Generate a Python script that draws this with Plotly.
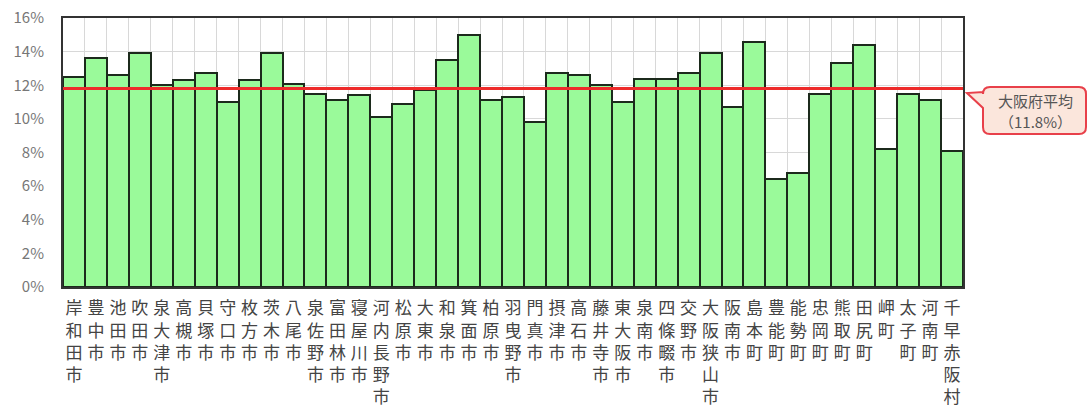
import plotly.graph_objects as go

categories = ["岸和田市", "豊中市", "池田市", "吹田市", "泉大津市", "高槻市", "貝塚市", "守口市",
              "枚方市", "茨木市", "八尾市", "泉佐野市", "富田林市", "寝屋川市", "河内長野市", "松原市",
              "大東市", "和泉市", "箕面市", "柏原市", "羽曳野市", "門真市", "摂津市", "高石市",
              "藤井寺市", "東大阪市", "泉南市", "四條畷市", "交野市", "大阪狭山市", "阪南市", "島本町",
              "豊能町", "能勢町", "忠岡町", "熊取町", "田尻町", "岬町", "太子町", "河南町", "千早赤阪村"]
values = [12.5, 13.6, 12.6, 13.9, 12.0, 12.3, 12.7, 11.0,
          12.3, 13.9, 12.1, 11.5, 11.1, 11.4, 10.1, 10.9,
          11.7, 13.5, 15.0, 11.1, 11.3, 9.8, 12.7, 12.6,
          12.0, 11.0, 12.4, 12.4, 12.7, 13.9, 10.7, 14.6,
          6.4, 6.8, 11.5, 13.3, 14.4, 8.2, 11.5, 11.1, 8.1]
average = 11.8
y_ticks = [0, 2, 4, 6, 8, 10, 12, 14, 16]
avg_label = ["大阪府平均", "（11.8%）"]

W, H = 1088, 410
L, R, T, B = 63, 125, 18, 123
pw, ph = W - L - R, H - T - B

x = list(range(len(categories)))
ticktext = ["<br>".join(list(c)) for c in categories]

fig = go.Figure()
fig.add_trace(go.Bar(
    x=x, y=values, width=1.0,
    marker=dict(color="#9afa9a", line=dict(color="#1c2a1c", width=2)),
    hoverinfo="skip",
))

fig.add_shape(type="line", xref="x", yref="y", x0=-0.5, x1=len(categories) - 0.5,
              y0=average, y1=average, line=dict(color="#ee2b2b", width=3), layer="above")

def px2paper(px, py):
    return (px - L) / pw, (H - B - py) / ph

x0, x1, y0, y1, r = 983, 1086, 87, 134, 7
tip = (967, 93)
ta, tb = 92, 108
def P(px, py):
    a, b = px2paper(px, py)
    return f"{a:.5f},{b:.5f}"
path = (f"M {P(x0 + r, y0)} L {P(x1 - r, y0)} Q {P(x1, y0)} {P(x1, y0 + r)} "
        f"L {P(x1, y1 - r)} Q {P(x1, y1)} {P(x1 - r, y1)} L {P(x0 + r, y1)} "
        f"Q {P(x0, y1)} {P(x0, y1 - r)} L {P(x0, tb)} L {P(*tip)} L {P(x0, ta)} "
        f"L {P(x0, y0 + r)} Q {P(x0, y0)} {P(x0 + r, y0)} Z")
fig.add_shape(type="path", xref="paper", yref="paper", path=path,
              fillcolor="#fbe6dc", line=dict(color="#e8404a", width=2), layer="above")

cx, cy1 = px2paper((x0 + x1) / 2 + 1, 100)
_, cy2 = px2paper((x0 + x1) / 2 + 1, 121)
for txt, cy in zip(avg_label, [cy1, cy2]):
    fig.add_annotation(x=cx, y=cy, xref="paper", yref="paper", text=txt, showarrow=False,
                       font=dict(size=15, color="#555555", family="Noto Sans CJK JP"),
                       xanchor="center", yanchor="middle")

fig.update_layout(
    width=W, height=H, margin=dict(l=L, r=R, t=T, b=B, pad=0, autoexpand=False),
    paper_bgcolor="white", plot_bgcolor="white", showlegend=False, bargap=0,
    font=dict(family="Noto Sans CJK JP", color="#555555"),
)
fig.update_xaxes(
    range=[-0.5, len(categories) - 0.5], tickmode="array", tickvals=x, ticktext=ticktext,
    tickfont=dict(size=17, color="#444444", family="Noto Sans CJK JP"),
    showgrid=False, showline=True, mirror=True, linecolor="#333333", linewidth=2,
    ticks="", ticklabelstandoff=5, automargin=False,
    minor=dict(tickmode="linear", tick0=-0.5, dtick=1, showgrid=True, gridcolor="#d8d8d8", gridwidth=1, ticks=""),
    fixedrange=True,
)
fig.update_yaxes(
    range=[0, 16], tickmode="array", tickvals=y_ticks, ticktext=[f"{v}%" for v in y_ticks],
    tickfont=dict(size=15, color="#777777", family="Noto Sans CJK JP"),
    showgrid=True, gridcolor="#d8d8d8", gridwidth=1, zeroline=False,
    showline=True, mirror=True, linecolor="#333333", linewidth=2,
    ticks="", ticklabelstandoff=14, automargin=False, fixedrange=True,
)

fig.write_html("out.html")
